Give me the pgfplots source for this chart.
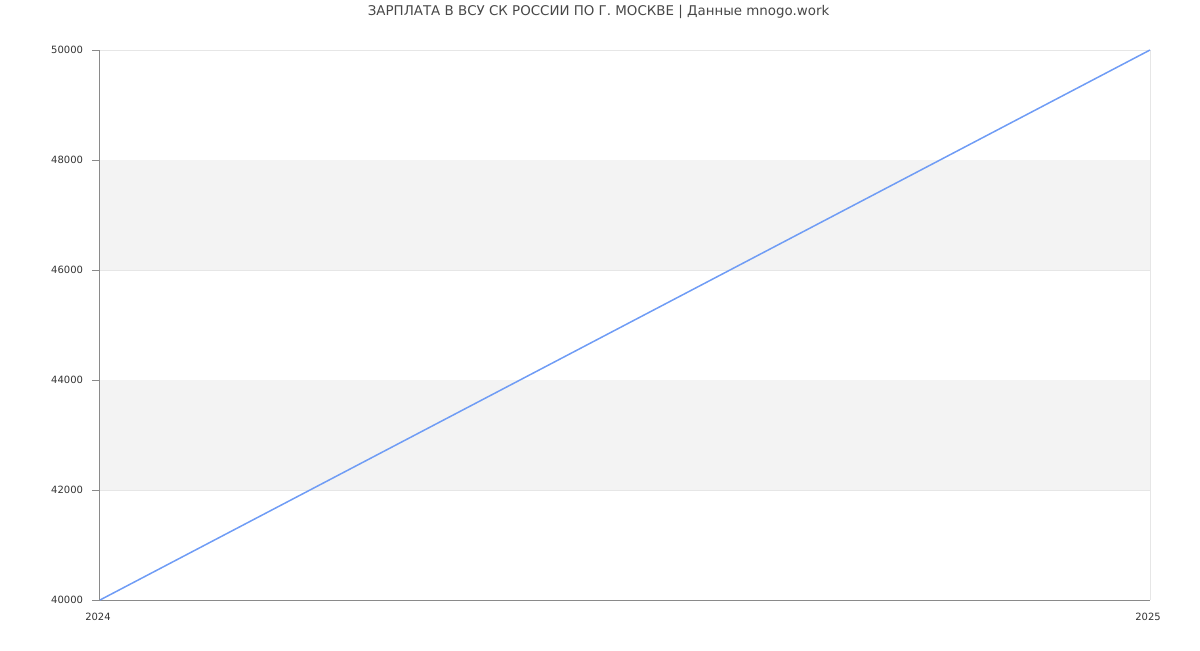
\documentclass[border=0pt]{standalone}
\usepackage{fontspec}
\setmainfont{DejaVu Sans}
\usepackage{pgfplots}
\pgfplotsset{compat=1.18}
\definecolor{linecol}{HTML}{6F9CF5}
\definecolor{bandcol}{HTML}{F3F3F3}
\definecolor{gridcol}{HTML}{E6E6E6}
\definecolor{axiscol}{HTML}{8A8A8A}
\definecolor{labcol}{HTML}{333333}
\begin{document}
\begin{tikzpicture}
% 1 px = 0.5 pt
\useasboundingbox (0pt,0pt) rectangle (600pt,325pt);
\node[font=\fontsize{6.7}{7}\selectfont, text=labcol!90] at (299.3pt,319pt) {ЗАРПЛАТА В ВСУ СК РОССИИ ПО Г. МОСКВЕ | Данные mnogo.work};
\begin{axis}[
    at={(50pt,25pt)}, anchor=south west,
    scale only axis,
    width=525pt, height=275pt,
    xmin=2024, xmax=2025,
    ymin=40000, ymax=50000,
    xtick={2024,2025},
    ytick={40000,42000,44000,46000,48000,50000},
    scaled y ticks=false,
    axis x line*=bottom,
    axis y line*=left,
    axis line style={axiscol, line width=0.5pt, -},
    ymajorgrids,
    grid style={gridcol, line width=0.5pt},
    tick style={axiscol, line width=0.5pt},
    major tick length=4pt,
    xtick style={draw=none},
    tick align=outside,
    ticklabel style={font=\fontsize{5}{6}\selectfont, text=labcol},
    /pgf/number format/assume math mode=true,
    /pgf/number format/set thousands separator={},
    yticklabel={\pgfmathprintnumber[fixed, precision=0]{\tick}},
    xticklabel style={yshift=1pt, xshift=-1pt},
    yticklabel style={xshift=-1pt},
    clip=false,
]
% alternating background bands
\addplot[fill=bandcol, draw=none] coordinates {(2024,42000) (2025,42000) (2025,44000) (2024,44000)} -- cycle;
\addplot[fill=bandcol, draw=none] coordinates {(2024,46000) (2025,46000) (2025,48000) (2024,48000)} -- cycle;
\addplot[gridcol, line width=0.5pt] coordinates {(2025,40000) (2025,50000)};
\addplot[linecol, line width=0.75pt, mark=none] coordinates {(2024,40000) (2025,50000)};
\end{axis}
\end{tikzpicture}
\end{document}
